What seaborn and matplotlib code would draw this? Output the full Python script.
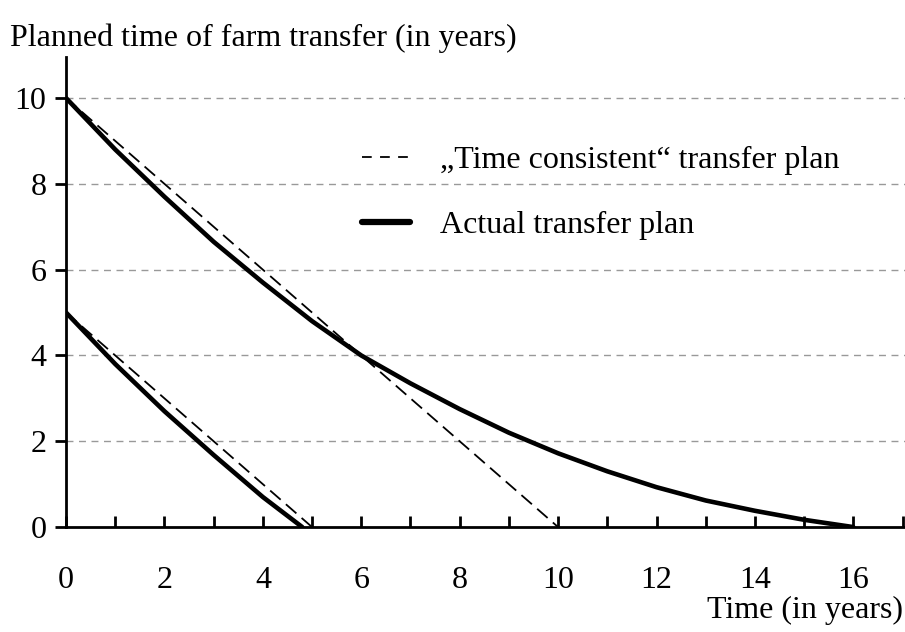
import matplotlib
matplotlib.use("Agg")
import matplotlib.pyplot as plt
import pandas as pd
import seaborn as sns

# values
upper_years = [0, 1, 2, 3, 4, 5, 6, 7, 8, 9, 10, 11, 12, 13, 14, 15, 16]
upper_actual = [10, 8.8, 7.7, 6.65, 5.7, 4.8, 4.0, 3.35, 2.75, 2.2, 1.72, 1.3, 0.93, 0.62, 0.38, 0.17, 0]
upper_consistent_years = [0, 10]
upper_consistent = [10, 0]

lower_years = [0, 1, 2, 3, 4, 4.8]
lower_actual = [5, 3.8, 2.7, 1.68, 0.7, 0]
lower_consistent_years = [0, 5]
lower_consistent = [5, 0]

x_ticks = list(range(0, 18))
x_labels = [str(v) if v % 2 == 0 and v <= 16 else "" for v in x_ticks]
y_ticks = [0, 2, 4, 6, 8, 10]

sns.set_style("white")
plt.rcParams["font.family"] = ["Liberation Serif", "DejaVu Serif"]
plt.rcParams["lines.scale_dashes"] = False
plt.rcParams["text.color"] = "black"
plt.rcParams["xtick.color"] = "black"
plt.rcParams["ytick.color"] = "black"

fs = 23

fig = plt.figure(figsize=(9.05, 6.32), dpi=100)
ax = fig.add_axes([0.073, 0.166, 0.927, 0.744])

for y in y_ticks[1:]:
    ax.axhline(y, color="#999999", lw=1, dashes=(5, 4), zorder=0)

dash = (10, 5)
sns.lineplot(x=upper_consistent_years, y=upper_consistent, ax=ax, color="black", lw=1.3,
             dashes=False, label='„Time consistent“ transfer plan').lines[-1].set_dashes(dash)
sns.lineplot(x=upper_years, y=upper_actual, ax=ax, color="black", lw=3.3, label="Actual transfer plan")
sns.lineplot(x=lower_consistent_years, y=lower_consistent, ax=ax, color="black", lw=1.3,
             legend=False).lines[-1].set_dashes(dash)
sns.lineplot(x=lower_years, y=lower_actual, ax=ax, color="black", lw=3.3, legend=False)

ax.set_xlim(0, 17.05)
ax.set_ylim(0, 10.96)
sns.despine(ax=ax)
for s in ["left", "bottom"]:
    ax.spines[s].set_linewidth(2)
    ax.spines[s].set_color("black")

ax.set_xticks(x_ticks)
ax.set_xticklabels(x_labels)
ax.set_yticks(y_ticks)
ax.tick_params(axis="x", direction="in", length=8, width=2, pad=28, labelsize=fs, bottom=True)
ax.tick_params(axis="y", direction="out", length=8, width=2, pad=6, labelsize=fs, left=True)
ax.set_xlabel("")
ax.set_ylabel("")

leg = ax.legend(loc="upper left", bbox_to_anchor=(0.4, 0.77), bbox_transform=fig.transFigure,
                frameon=False, fontsize=fs, handlelength=1.5, handletextpad=0.95,
                labelspacing=1.12, borderpad=0, borderaxespad=0)
for line in leg.get_lines():
    if line.get_linewidth() > 2:
        line.set_linewidth(4.5)
    else:
        line.set_dashes((7, 6))

fig.text(0.011, 0.94, "Planned time of farm transfer (in years)", fontsize=fs, va="center", ha="left")
fig.text(0.998, 0.034, "Time (in years)", fontsize=fs, va="center", ha="right")

fig.savefig("out.png", dpi=100)
